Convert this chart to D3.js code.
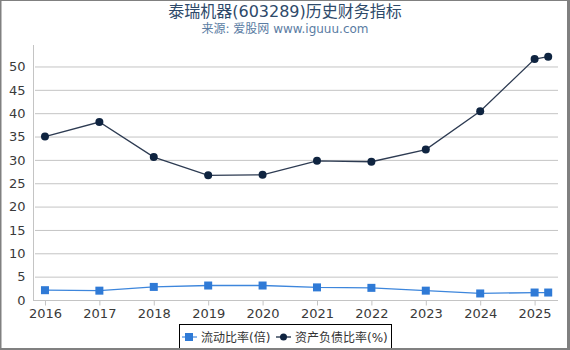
<!DOCTYPE html>
<html><head><meta charset="utf-8">
<script src="https://cdn.jsdelivr.net/npm/d3@7"></script>
<style>body{margin:0;background:#fff}svg{display:block}</style>
</head><body>
<script>
const years = [2016, 2017, 2018, 2019, 2020, 2021, 2022, 2023, 2024, 2025, 2025.25];
const currentRatio = [2.1, 2.0, 2.8, 3.1, 3.1, 2.7, 2.6, 2.0, 1.4, 1.6, 1.6];
const debtRatio = [35.0, 38.1, 30.6, 26.7, 26.8, 29.8, 29.6, 32.2, 40.4, 51.6, 52.1];
const xTicks = [2016, 2017, 2018, 2019, 2020, 2021, 2022, 2023, 2024, 2025];
const yTicks = [0, 5, 10, 15, 20, 25, 30, 35, 40, 45, 50];
const seriesNames = ["流动比率(倍)", "资产负债比率(%)"];
const title = "泰瑞机器(603289)历史财务指标";
const subtitle = "来源: 爱股网 www.iguuu.com";

const W = 570, H = 350;
const font = "'DejaVu Sans','Noto Sans CJK SC',sans-serif";
const svg = d3.select("body").append("svg").attr("width", W).attr("height", H);

const x = d3.scaleLinear().domain([2015.78, 2025.43]).range([33, 558]);
const y = d3.scaleLinear().domain([0, 54.6]).range([300, 45]);

// grid
svg.append("g").selectAll("line").data(yTicks).join("line")
  .attr("x1", 35).attr("x2", 558)
  .attr("y1", d => y(d) + 0.5).attr("y2", d => y(d) + 0.5)
  .attr("stroke", "#c4c4c4").attr("stroke-width", 1);

// y axis
const ya = svg.append("g").attr("transform", "translate(33.5,0)")
  .call(d3.axisLeft(y).tickValues(yTicks).tickSize(0).tickPadding(8));
ya.select(".domain").attr("stroke", "#c4c4c4").attr("d", `M0,${y(54.6)}V${y(0)+1}`);
ya.selectAll("text").attr("font-family", font).attr("font-size", 13).attr("fill", "#3a3a3a");

// x axis
const xa = svg.append("g").attr("transform", "translate(0,300.5)")
  .call(d3.axisBottom(x).tickValues(xTicks).tickFormat(d3.format("d")).tickSize(5).tickPadding(3));
xa.select(".domain").attr("stroke", "#c4c4c4").attr("d", `M33,0H558`);
xa.selectAll(".tick line").attr("stroke", "#c4c4c4");
xa.selectAll("text").attr("font-family", font).attr("font-size", 13).attr("fill", "#3a3a3a");

const c1 = "#2f7ad6", c1line = "#3d86dc", c2 = "#0f2440", c2line = "#2d3b52";

const line = d3.line().x((d, i) => x(years[i])).y(d => y(d));

svg.append("path").datum(currentRatio).attr("d", line)
  .attr("fill", "none").attr("stroke", c1line).attr("stroke-width", 1.3);
svg.append("g").selectAll("rect").data(currentRatio).join("rect")
  .attr("x", (d, i) => x(years[i]) - 4).attr("y", d => y(d) - 4)
  .attr("width", 8).attr("height", 8).attr("fill", c1);

svg.append("path").datum(debtRatio).attr("d", line)
  .attr("fill", "none").attr("stroke", c2line).attr("stroke-width", 1.3);
svg.append("g").selectAll("circle").data(debtRatio).join("circle")
  .attr("cx", (d, i) => x(years[i])).attr("cy", d => y(d))
  .attr("r", 4).attr("fill", c2);

// title
svg.append("text").attr("x", 285).attr("y", 17).attr("text-anchor", "middle")
  .attr("font-family", font).attr("font-size", 16).attr("fill", "#2e4a6a").text(title);
svg.append("text").attr("x", 285).attr("y", 33).attr("text-anchor", "middle")
  .attr("font-family", font).attr("font-size", 12).attr("fill", "#5a7ca3").text(subtitle);

// legend
const lg = svg.append("g");
lg.append("rect").attr("x", 179.5).attr("y", 324.5).attr("width", 212).attr("height", 24)
  .attr("fill", "#fff").attr("stroke", "#000").attr("stroke-width", 1);
lg.append("line").attr("x1", 182).attr("x2", 197).attr("y1", 337).attr("y2", 337)
  .attr("stroke", "#8fb8ea").attr("stroke-width", 2);
lg.append("rect").attr("x", 185).attr("y", 333).attr("width", 8).attr("height", 8).attr("fill", c1);
lg.append("text").attr("x", 201).attr("y", 341.5).attr("font-family", font).attr("font-size", 12)
  .attr("fill", "#333").text(seriesNames[0]);
lg.append("line").attr("x1", 276).attr("x2", 291).attr("y1", 337).attr("y2", 337)
  .attr("stroke", "#6a7585").attr("stroke-width", 2);
lg.append("circle").attr("cx", 283.5).attr("cy", 337).attr("r", 3.5).attr("fill", c2);
lg.append("text").attr("x", 295).attr("y", 341.5).attr("font-family", font).attr("font-size", 12)
  .attr("fill", "#333").text(seriesNames[1]);

// frame
svg.append("rect").attr("x", 0).attr("y", 0).attr("width", 1.5).attr("height", H).attr("fill", "#808080");
svg.append("rect").attr("x", 0).attr("y", 0).attr("width", W).attr("height", 1).attr("fill", "#808080");
svg.append("rect").attr("x", 567).attr("y", 0).attr("width", 3).attr("height", H).attr("fill", "#808080");
svg.append("rect").attr("x", 0).attr("y", 348).attr("width", W).attr("height", 2).attr("fill", "#808080");
</script>
</body></html>
